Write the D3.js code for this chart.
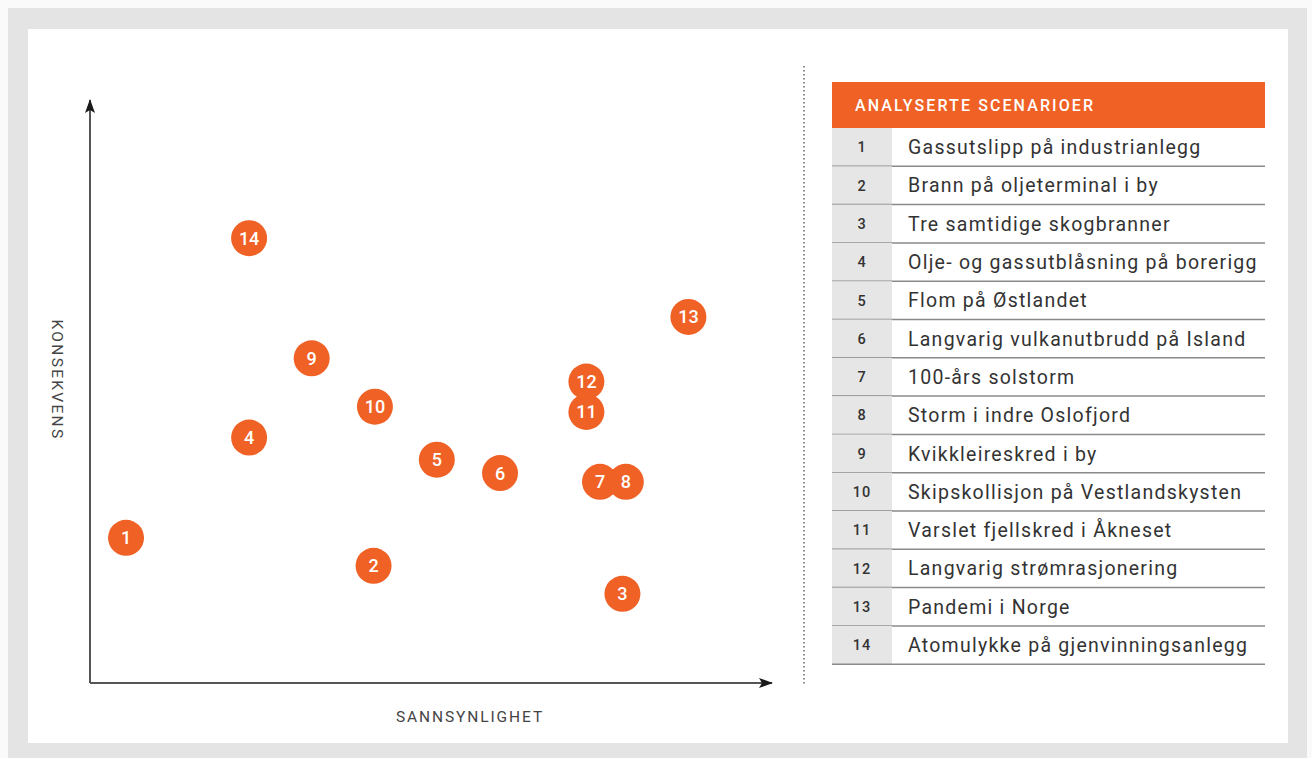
<!DOCTYPE html>
<html>
<head>
<meta charset="utf-8">
<script src="https://cdn.jsdelivr.net/npm/d3@7"></script>
<style>
  html, body { margin: 0; padding: 0; background: #fafafa; }
  svg { display: block; }
</style>
</head>
<body>
<svg id="chart" width="1312" height="758"></svg>
<script>
// ---- data ----
const ids = [1, 2, 3, 4, 5, 6, 7, 8, 9, 10, 11, 12, 13, 14];
const probability = [0.53, 4.17, 7.83, 2.34, 5.1, 6.03, 7.5, 7.88, 3.26, 4.19, 7.3, 7.3, 8.8, 2.34];
const consequence = [2.49, 2.01, 1.53, 4.21, 3.83, 3.6, 3.45, 3.45, 5.57, 4.74, 4.65, 5.17, 6.28, 7.63];
const scenarioNames = [
  "Gassutslipp på industrianlegg",
  "Brann på oljeterminal i by",
  "Tre samtidige skogbranner",
  "Olje- og gassutblåsning på borerigg",
  "Flom på Østlandet",
  "Langvarig vulkanutbrudd på Island",
  "100-års solstorm",
  "Storm i indre Oslofjord",
  "Kvikkleireskred i by",
  "Skipskollisjon på Vestlandskysten",
  "Varslet fjellskred i Åkneset",
  "Langvarig strømrasjonering",
  "Pandemi i Norge",
  "Atomulykke på gjenvinningsanlegg"
];
const tableTitle = "ANALYSERTE SCENARIOER";
const xLabel = "SANNSYNLIGHET";
const yLabel = "KONSEKVENS";

// ---- layout ----
const svg = d3.select("#chart");
const orange = "#ef6125";
const font = "Roboto, 'Noto Sans', sans-serif";

svg.append("rect").attr("x", 8).attr("y", 8).attr("width", 1299).attr("height", 750).attr("fill", "#e4e4e4");
svg.append("rect").attr("x", 28).attr("y", 29).attr("width", 1260).attr("height", 714).attr("fill", "#ffffff");

const x0 = 90, y0 = 683;
const x = d3.scaleLinear().domain([0, 10]).range([x0, 770]);
const y = d3.scaleLinear().domain([0, 10]).range([y0, 100]);

const defs = svg.append("defs");
defs.append("marker").attr("id", "arrow").attr("viewBox", "0 0 14 10")
  .attr("refX", 13).attr("refY", 5).attr("markerWidth", 14).attr("markerHeight", 10)
  .attr("markerUnits", "userSpaceOnUse").attr("orient", "auto")
  .append("path").attr("d", "M0,0 L14,5 L0,10 L3,5 Z").attr("fill", "#1a1a1a");

const axes = svg.append("g");
axes.append("line").attr("x1", x0).attr("y1", y0).attr("x2", x0).attr("y2", y(10))
  .attr("stroke", "#555").attr("stroke-width", 2).attr("marker-end", "url(#arrow)");
axes.append("line").attr("x1", x0).attr("y1", y0).attr("x2", x(10) + 2).attr("y2", y0)
  .attr("stroke", "#555").attr("stroke-width", 2).attr("marker-end", "url(#arrow)");

svg.append("text").attr("x", 470).attr("y", 722).attr("text-anchor", "middle")
  .attr("font-family", font).attr("font-size", 15.5).attr("fill", "#444")
  .attr("letter-spacing", 1.9).text(xLabel);
svg.append("text").attr("transform", "translate(52,380) rotate(90)").attr("text-anchor", "middle")
  .attr("font-family", font).attr("font-size", 15.5).attr("fill", "#444")
  .attr("letter-spacing", 2.3).text(yLabel);

const pts = ids.map((id, i) => ({ id, p: probability[i], c: consequence[i] }));
const g = svg.append("g").selectAll("g").data(pts).join("g")
  .attr("transform", d => `translate(${x(d.p)},${y(d.c)})`);
g.append("circle").attr("r", 18).attr("fill", orange);
g.append("text").attr("text-anchor", "middle").attr("dy", "0.36em")
  .attr("font-family", font).attr("font-size", 18).attr("font-weight", 500)
  .attr("fill", "#fff").text(d => d.id);

// dotted separator
svg.append("line").attr("x1", 804).attr("x2", 804).attr("y1", 66).attr("y2", 686)
  .attr("stroke", "#666").attr("stroke-width", 1.5).attr("stroke-dasharray", "1.5,2.5");

// table
const tx = 832, tw = 433, headTop = 82, headH = 46, rowH = 38.3;
const numW = 60;
svg.append("rect").attr("x", tx).attr("y", headTop).attr("width", tw).attr("height", headH).attr("fill", orange);
svg.append("text").attr("x", tx + 23).attr("y", headTop + 29).attr("font-family", font)
  .attr("font-size", 16).attr("font-weight", 500).attr("fill", "#fff").attr("letter-spacing", 2.1)
  .text(tableTitle);

const rows = svg.append("g").selectAll("g").data(scenarioNames).join("g")
  .attr("transform", (d, i) => `translate(${tx},${headTop + headH + i * rowH})`);
rows.append("rect").attr("width", numW).attr("height", rowH).attr("fill", "#e6e6e6");
rows.append("line").attr("x1", 0).attr("x2", tw).attr("y1", rowH).attr("y2", rowH)
  .attr("stroke", "#8a8a8a").attr("stroke-width", 1.5);
rows.append("text").attr("x", numW / 2).attr("y", rowH / 2).attr("dy", "0.36em")
  .attr("text-anchor", "middle").attr("font-family", font).attr("font-size", 14.5)
  .attr("font-weight", 500).attr("fill", "#333").attr("letter-spacing", 1).text((d, i) => ids[i]);
rows.append("text").attr("x", 76).attr("y", rowH / 2).attr("dy", "0.36em")
  .attr("font-family", font).attr("font-size", 19.5).attr("fill", "#333")
  .attr("letter-spacing", 1.25).text(d => d);
</script>
</body>
</html>
